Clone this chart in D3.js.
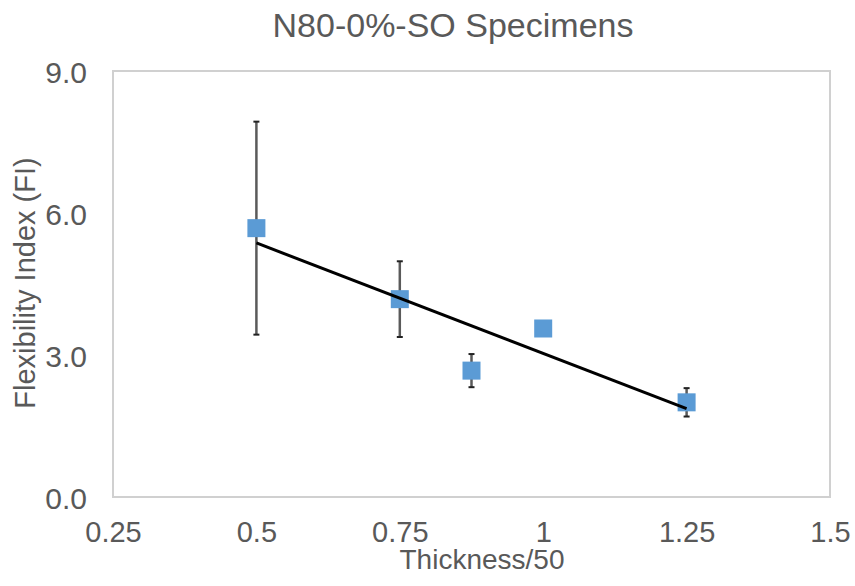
<!DOCTYPE html>
<html>
<head>
<meta charset="utf-8">
<script src="https://cdn.jsdelivr.net/npm/d3@7"></script>
<style>
  body { margin: 0; background: #fff; }
  text { font-family: "Liberation Sans", Arial, sans-serif; fill: #595959; }
</style>
</head>
<body>
<div id="chart"></div>
<script>
// data
var thickness = [0.5, 0.75, 0.875, 1.0, 1.25];
var flexIndex = [5.68, 4.18, 2.67, 3.56, 2.0];
var errorBar = [2.25, 0.8, 0.35, 0, 0.3];
var xTicks = [0.25, 0.5, 0.75, 1, 1.25, 1.5];
var yTicks = [0, 3, 6, 9];

var width = 855, height = 586;
var margin = { top: 71, right: 25, bottom: 89, left: 113 };

var svg = d3.select("#chart").append("svg")
  .attr("width", width)
  .attr("height", height);

var xScale = d3.scaleLinear().domain([0.25, 1.5]).range([margin.left, width - margin.right]);
var yScale = d3.scaleLinear().domain([0, 9]).range([height - margin.bottom, margin.top]);

// plot border
svg.append("rect")
  .attr("x", xScale(0.25))
  .attr("y", yScale(9))
  .attr("width", xScale(1.5) - xScale(0.25))
  .attr("height", yScale(0) - yScale(9))
  .attr("fill", "none")
  .attr("stroke", "#d0d0d0")
  .attr("stroke-width", 2);

// x axis
var xAxis = d3.axisBottom(xScale)
  .tickValues(xTicks)
  .tickSize(0)
  .tickPadding(0)
  .tickFormat(function(d) { return String(d); });
var gx = svg.append("g")
  .attr("transform", "translate(0," + yScale(0) + ")")
  .call(xAxis);
gx.select(".domain").remove();
gx.selectAll("text")
  .attr("y", 45)
  .attr("dy", null)
  .style("font-size", "29px")
  .style("fill", "#595959");

// y axis
var yAxis = d3.axisLeft(yScale)
  .tickValues(yTicks)
  .tickSize(0)
  .tickPadding(0)
  .tickFormat(d3.format(".1f"));
var gy = svg.append("g")
  .attr("transform", "translate(" + xScale(0.25) + ",0)")
  .call(yAxis);
gy.select(".domain").remove();
gy.selectAll("text")
  .attr("x", -26)
  .attr("dy", "11px")
  .style("font-size", "30px")
  .style("fill", "#595959");

// titles
svg.append("text")
  .attr("x", 453)
  .attr("y", 37)
  .attr("text-anchor", "middle")
  .style("font-size", "34px")
  .text("N80-0%-SO Specimens");

svg.append("text")
  .attr("x", 482)
  .attr("y", 569)
  .attr("text-anchor", "middle")
  .style("font-size", "28px")
  .text("Thickness/50");

svg.append("text")
  .attr("transform", "translate(35," + 283 + ") rotate(-90)")
  .attr("text-anchor", "middle")
  .style("font-size", "29px")
  .text("Flexibility Index (FI)");

var points = thickness.map(function(t, i) {
  return { x: t, y: flexIndex[i], err: errorBar[i] };
});

// error bars
var bars = svg.append("g");
points.filter(function(d) { return d.err > 0; }).forEach(function(d) {
  var cx = xScale(d.x);
  bars.append("line")
    .attr("x1", cx).attr("x2", cx)
    .attr("y1", yScale(d.y + d.err)).attr("y2", yScale(d.y - d.err))
    .attr("stroke", "#5a5a5a")
    .attr("stroke-width", 2.5);
  [d.y + d.err, d.y - d.err].forEach(function(v) {
    bars.append("line")
      .attr("x1", cx - 3).attr("x2", cx + 3)
      .attr("y1", yScale(v)).attr("y2", yScale(v))
      .attr("stroke", "#222")
      .attr("stroke-width", 2);
  });
});

// markers
svg.selectAll(".dot")
  .data(points)
  .enter()
  .append("rect")
  .attr("class", "dot")
  .attr("x", function(d) { return xScale(d.x) - 9; })
  .attr("y", function(d) { return yScale(d.y) - 9; })
  .attr("width", 18)
  .attr("height", 18)
  .attr("fill", "#5b9bd5");

// linear trendline (least squares)
var mx = d3.mean(thickness), my = d3.mean(flexIndex);
var sxy = d3.sum(thickness, function(t, i) { return (t - mx) * (flexIndex[i] - my); });
var sxx = d3.sum(thickness, function(t) { return (t - mx) * (t - mx); });
var slope = sxy / sxx, intercept = my - slope * mx;
var xExt = d3.extent(thickness);

svg.append("line")
  .attr("x1", xScale(xExt[0]))
  .attr("y1", yScale(slope * xExt[0] + intercept))
  .attr("x2", xScale(xExt[1]))
  .attr("y2", yScale(slope * xExt[1] + intercept))
  .attr("stroke", "#000")
  .attr("stroke-width", 3);
</script>
</body>
</html>
